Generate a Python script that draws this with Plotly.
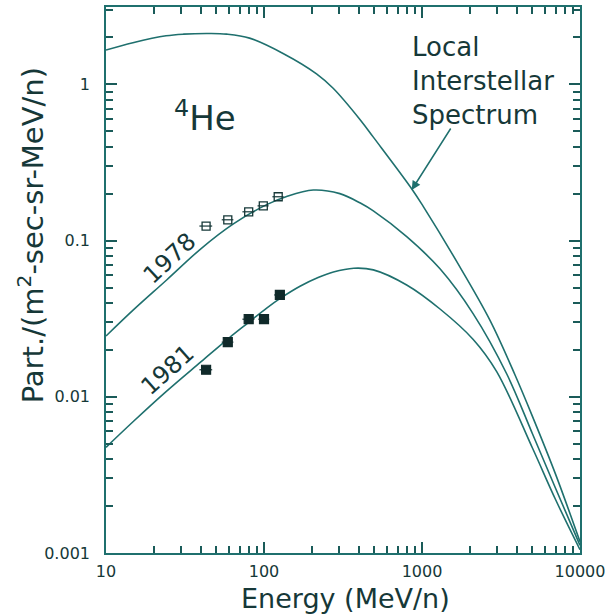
import plotly.graph_objects as go
import math

# ---------------- data ----------------
lis_energy = [10, 14.8, 24, 31, 45, 58, 81, 132, 215, 274, 407, 492, 860, 1020,
              1660, 2690, 3880, 5000, 7000, 10000]
lis_flux = [1.66, 1.85, 2.05, 2.10, 2.12, 2.10, 1.98, 1.58, 1.17, 0.946, 0.593,
            0.46, 0.215, 0.165, 0.0734, 0.031, 0.0138, 0.0075, 0.0032, 0.00118]

mod1978_energy = [10, 14.9, 24.2, 40, 64, 104, 139, 205, 302, 407, 492, 800, 1300,
                  2110, 3440, 5000, 7000, 10000]
mod1978_flux = [0.0245, 0.036, 0.056, 0.089, 0.128, 0.170, 0.192, 0.211, 0.200, 0.174,
                0.155, 0.106, 0.066, 0.034, 0.0140, 0.0058, 0.0026, 0.00112]

mod1981_energy = [10, 15, 24, 40, 60, 80, 104, 126, 169, 220, 275, 370, 492, 800, 1300,
                  2110, 2970, 5000, 7000, 10000]
mod1981_flux = [0.00475, 0.0070, 0.0108, 0.0168, 0.0238, 0.0300, 0.0370, 0.0425, 0.0510,
                0.0580, 0.0630, 0.0666, 0.0650, 0.0520, 0.0365, 0.0233, 0.0145, 0.0047,
                0.0022, 0.00105]

data1978_energy = [43, 59, 80, 99, 123]
data1978_flux = [0.124, 0.136, 0.153, 0.167, 0.191]
data1978_err = [4, 5, 7, 8, 10]

data1981_energy = [43, 59, 80, 100, 126]
data1981_flux = [0.0149, 0.0224, 0.0314, 0.0314, 0.0449]
data1981_err = [4, 5, 7, 8, 10]

x_tick_vals = [10, 100, 1000, 10000]
x_tick_text = ["10", "100", "1000", "10000"]
y_tick_vals = [0.001, 0.01, 0.1, 1]
y_tick_text = ["0.001", "0.01", "0.1", "1"]

# ---------------- style ----------------
LINE = "#1f706e"
TICK = "#1a5b59"
TEXT = "#163838"
FONT = "DejaVu Sans"

fig = go.Figure()

for ex, fy in [(lis_energy, lis_flux), (mod1978_energy, mod1978_flux),
               (mod1981_energy, mod1981_flux)]:
    fig.add_trace(go.Scatter(x=ex, y=fy, mode="lines",
                             line=dict(color=LINE, width=1.6, shape="spline", smoothing=1.0),
                             showlegend=False, hoverinfo="skip"))

fig.add_trace(go.Scatter(
    x=data1978_energy, y=data1978_flux, mode="markers",
    marker=dict(symbol="square-open", size=8, color=TEXT, line=dict(width=1.3, color=TEXT)),
    error_x=dict(type="data", array=data1978_err, color=TEXT, thickness=1.2, width=0),
    showlegend=False))

fig.add_trace(go.Scatter(
    x=data1981_energy, y=data1981_flux, mode="markers",
    marker=dict(symbol="square", size=9, color="#102a2a", line=dict(width=1.2, color="#102a2a")),
    error_x=dict(type="data", array=data1981_err, color=TEXT, thickness=1.2, width=0),
    showlegend=False))

x_minor = [m * 10 ** d for d in range(1, 4) for m in range(2, 10)]
y_minor = [m * 10 ** d for d in range(-3, 1) for m in range(2, 10)]

axis_common = dict(
    showline=True, linecolor=LINE, linewidth=1.6, mirror="ticks",
    ticks="inside", ticklen=11, tickwidth=1.6, tickcolor=TICK,
    showgrid=False, zeroline=False, automargin=False,
    tickfont=dict(family=FONT, size=16, color=TEXT),
)

fig.update_xaxes(type="log", range=[1, 4], tickvals=x_tick_vals, ticktext=x_tick_text,
                 minor=dict(tickvals=x_minor, ticks="inside", ticklen=7, tickwidth=1.5,
                            tickcolor=TICK, showgrid=False),
                 ticklabelstandoff=3,
                 **axis_common)
fig.update_yaxes(type="log", range=[-3, 0.496], tickvals=y_tick_vals, ticktext=y_tick_text,
                 minor=dict(tickvals=y_minor, ticks="inside", ticklen=7, tickwidth=1.5,
                            tickcolor=TICK, showgrid=False),
                 ticklabelstandoff=11,
                 **axis_common)

annotations = [
    dict(text="Energy (MeV/n)", xref="paper", yref="paper", x=0.505, y=-0.0842,
         xanchor="center", yanchor="middle", showarrow=False,
         font=dict(family=FONT, size=27, color=TEXT)),
    dict(text="Part./(m<sup>2</sup>-sec-sr-MeV/n)", xref="paper", yref="paper",
         x=-0.158, y=0.582, xanchor="center", yanchor="middle", textangle=-90,
         showarrow=False, font=dict(family=FONT, size=29, color=TEXT)),
    dict(text="<sup>4</sup>He", xref="paper", yref="paper", x=0.209, y=0.80,
         xanchor="center", yanchor="middle",
         showarrow=False, font=dict(family=FONT, size=34, color=TEXT)),
    dict(text="Local<br>Interstellar<br>Spectrum", xref="paper", yref="paper",
         x=0.641, y=0.958, xanchor="left", yanchor="top", align="left",
         showarrow=False, font=dict(family=FONT, size=26, color=TEXT)),
    dict(text="", x=math.log10(860), y=math.log10(0.211), ax=40, ay=-63,
         showarrow=True, arrowhead=2, arrowsize=1.2, arrowwidth=1.5, arrowcolor=LINE),
    dict(text="1978", x=math.log10(25.4), y=math.log10(0.0775), textangle=-43,
         showarrow=False, font=dict(family=FONT, size=24, color=TEXT)),
    dict(text="1981", x=math.log10(24.5), y=math.log10(0.01486), textangle=-42,
         showarrow=False, font=dict(family=FONT, size=24, color=TEXT)),
]

fig.update_layout(
    width=613, height=616,
    margin=dict(l=106, r=33, t=7, b=63),
    paper_bgcolor="white", plot_bgcolor="white",
    annotations=annotations,
    showlegend=False,
)

fig.write_html("out.html",
               config={"displayModeBar": False},
               post_script="document.body.style.margin='0';"
                           "document.body.style.overflow='hidden';")
